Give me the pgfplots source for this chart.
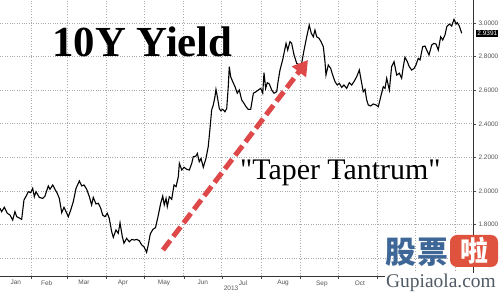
\documentclass[border=0pt]{standalone}
\usepackage{pgfplots}
\pgfplotsset{compat=1.18}
\usepackage{fontspec}
\setmainfont{Liberation Serif}
\newfontfamily\sans{Liberation Sans}
\newfontfamily\cjk{Noto Sans CJK SC}
\usetikzlibrary{arrows.meta}
\definecolor{arrowred}{RGB}{222,72,72}
\definecolor{ticktext}{RGB}{85,85,85}
\definecolor{gridc}{RGB}{170,170,170}
\definecolor{wmblue}{RGB}{62,102,150}
\definecolor{wmred}{RGB}{222,82,62}
\definecolor{wmgray}{RGB}{80,90,100}
\begin{document}
\begin{tikzpicture}
\useasboundingbox (0,-16bp) rectangle (500bp,276bp);
\begin{axis}[
  at={(0,0)}, anchor=south west,
  scale only axis, width=473bp, height=276bp,
  xmin=6, xmax=379.2, ymin=1.494, ymax=3.137,
  axis x line=bottom, axis y line=right,
  axis line style={-, draw=black!80, line width=0.6bp},
  tick align=outside,
  xtick={18.5,42.8,72.3,103,135.4,166,197.7,229.3,260,290},
  xticklabels={Jan,Feb,Mar,Apr,May,Jun,Jul,Aug,Sep,Oct},
  major x tick style={draw=none},
  minor xtick={31,59,90,120,151,181,212,243,273,304,334,365},
  minor x tick style={draw=black!70, line width=0.5bp},
  minor tick length=3bp,
  major tick length=3bp,
  xmajorgrids=false, xminorgrids=true, ymajorgrids=true,
  grid style={dotted, gridc, line width=0.7bp},
  minor grid style={dotted, gridc, line width=0.7bp},
  ytick={1.6,1.8,2.0,2.2,2.4,2.6,2.8,3.0},
  yticklabels={,1.8000,2.0000,2.2000,2.4000,2.6000,2.8000,3.0000},
  y tick style={draw=black!70, line width=0.5bp},
  yticklabel style={font=\sans\fontsize{6.5}{7}\selectfont, text=ticktext, xshift=-1bp},
  xticklabel style={font=\sans\fontsize{6.5}{7}\selectfont, text=ticktext, yshift=2bp},
  clip=false,
]
\addplot[black, line width=1.1bp] coordinates {
(6.0,1.897) (7.3,1.877) (9.4,1.903) (11.8,1.867) (13.9,1.857) (16.0,1.827)
(17.8,1.877) (19.2,1.847) (21.8,1.837) (23.1,1.831) (24.9,1.946) (27.1,1.976)
(28.3,1.996) (30.2,1.990) (31.8,2.016) (33.1,1.966) (34.4,1.996) (37.0,1.962)
(39.7,1.956) (41.5,1.970) (44.1,2.030) (45.4,2.010) (47.6,2.036) (49.4,2.010)
(51.2,1.986) (52.8,1.956) (54.7,1.871) (56.5,1.903) (58.1,1.877) (59.9,1.847)
(61.8,1.887) (63.8,1.936) (66.0,2.016) (68.6,2.060) (70.5,2.030) (72.3,2.036)
(74.4,2.010) (76.5,1.966) (78.3,1.917) (79.6,1.962) (81.7,1.923) (83.6,1.927)
(85.5,1.897) (87.0,1.857) (88.8,1.847) (90.7,1.867) (92.2,1.837) (94.1,1.758)
(95.4,1.724) (97.5,1.768) (99.3,1.748) (100.7,1.811) (102.5,1.728) (103.8,1.689)
(105.9,1.718) (108.0,1.698) (109.9,1.712) (112.0,1.708) (113.8,1.712) (115.9,1.704)
(117.8,1.679) (119.6,1.668) (121.7,1.635) (123.0,1.680) (124.6,1.745) (126.7,1.772)
(128.7,1.782) (130.6,1.845) (132.8,1.927) (134.4,1.970) (135.6,1.917) (137.0,1.956)
(138.0,1.907) (139.6,1.966) (141.5,1.951) (143.3,2.036) (144.9,2.026) (146.7,2.085)
(147.5,2.165) (149.4,2.125) (151.2,2.141) (153.3,2.129) (155.4,2.125) (157.3,2.165)
(158.5,2.204) (160.6,2.208) (161.7,2.224) (163.2,2.174) (164.6,2.194) (166.4,2.141)
(168.5,2.194) (170.3,2.264) (171.7,2.373) (173.0,2.482) (174.3,2.512) (175.6,2.561)
(176.4,2.605) (177.5,2.561) (179.0,2.492) (180.1,2.478) (181.7,2.486) (183.5,2.472)
(184.9,2.492) (186.1,2.621) (186.9,2.740) (188.0,2.680) (189.6,2.651) (191.4,2.621)
(193.2,2.582) (194.8,2.601) (196.7,2.542) (198.5,2.522) (200.1,2.502) (201.9,2.486)
(203.8,2.486) (205.9,2.582) (208.0,2.591) (209.8,2.601) (211.7,2.611) (213.3,2.582)
(214.3,2.704) (215.6,2.611) (216.9,2.645) (218.5,2.637) (220.4,2.601) (222.2,2.582)
(224.3,2.591) (225.6,2.661) (226.9,2.720) (229.0,2.780) (231.7,2.879) (233.0,2.839)
(234.8,2.889) (236.1,2.879) (238.0,2.810) (240.1,2.760) (242.2,2.750) (244.0,2.760)
(245.9,2.839) (248.0,2.918) (250.0,2.988) (251.6,2.939) (253.2,2.918) (254.5,2.958)
(255.9,2.918) (257.7,2.909) (259.3,2.889) (261.1,2.859) (262.4,2.770) (263.2,2.690)
(265.0,2.750) (266.9,2.730) (268.5,2.690) (270.3,2.651) (272.1,2.631) (273.7,2.641)
(275.6,2.617) (277.4,2.631) (279.5,2.611) (281.6,2.645) (283.5,2.631) (285.3,2.651)
(287.4,2.680) (289.5,2.720) (291.4,2.641) (292.6,2.591) (294.0,2.605) (295.3,2.542)
(296.6,2.512) (298.5,2.506) (300.5,2.518) (302.7,2.512) (304.5,2.502) (306.4,2.561)
(308.4,2.621) (309.8,2.611) (311.1,2.671) (313.2,2.601) (315.0,2.740) (316.9,2.770)
(319.0,2.690) (321.1,2.701) (322.9,2.671) (324.2,2.740) (325.5,2.796) (327.4,2.770)
(328.9,2.740) (330.8,2.720) (332.7,2.730) (334.2,2.750) (336.0,2.790) (337.4,2.780)
(339.5,2.859) (341.3,2.863) (342.7,2.839) (344.5,2.810) (346.6,2.869) (348.4,2.879)
(350.0,2.875) (351.8,2.839) (353.7,2.918) (355.3,2.899) (357.1,2.929) (358.5,2.978)
(360.5,2.994) (362.4,2.982) (364.2,3.022) (365.8,2.994) (366.8,3.002) (368.4,2.982)
(370.3,2.939)
};
\draw[arrowred, line width=5bp, dash pattern=on 12bp off 5bp,
  -{Triangle[width=17bp,length=15bp]}] (134.6,1.649) -- (249,2.78);
\end{axis}
\node[anchor=base west, inner sep=0, font=\bfseries\fontsize{43}{43}\selectfont] at (52bp,219bp) {10Y Yield};
\node[anchor=base west, inner sep=0, font=\fontsize{30}{30}\selectfont] at (240bp,96bp) {\textquotedbl Taper Tantrum\textquotedbl};
\node[anchor=west, fill=black, text=white, inner sep=1.2bp, font=\sans\fontsize{6.5}{7}\selectfont] at (476bp,242.8bp) {2.9391};
\node[font=\sans\fontsize{6.5}{7}\selectfont, text=ticktext] at (231bp,-12bp) {2013};
% watermark
\node[anchor=center, inner sep=0, text=wmblue, font=\cjk\bfseries\fontsize{31}{31}\selectfont] at (401bp,24bp) {股};
\node[anchor=center, inner sep=0, text=wmblue, font=\cjk\bfseries\fontsize{31}{31}\selectfont] at (433bp,24bp) {票};
\fill[wmred, rounded corners=7bp] (450bp,9bp) rectangle (498bp,41bp);
\node[anchor=center, inner sep=0, text=white, font=\cjk\bfseries\fontsize{28}{28}\selectfont] at (474bp,25bp) {啦};
\node[anchor=base west, inner sep=1bp, fill=white, text=wmgray, font=\fontsize{19.5}{20}\selectfont] at (385bp,-11bp) {Gupiaola.com};
\end{tikzpicture}
\end{document}
